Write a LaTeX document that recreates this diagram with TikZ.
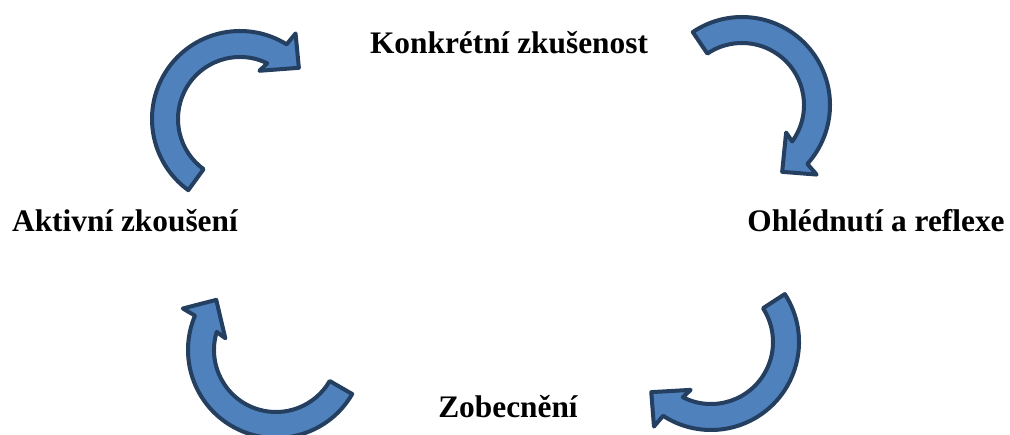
\documentclass[tikz,border=0pt]{standalone}
\usepackage{fontspec}
\setmainfont{Liberation Serif}
\definecolor{arrowfill}{HTML}{4F81BD}
\definecolor{arrowline}{HTML}{243F60}
% circular arrow: centre, tail angle, head angle (clockwise)
\newcommand{\cyclearrow}[3]{%
  \begin{scope}[shift={#1}]
  \draw[cycarrow] (#2:88) arc[start angle=#2, end angle={#3-6}, radius=88]
    -- ({#3-7}:102) -- ({#3-23}:78) -- ({#3+4}:52) -- (#3:62)
    arc[start angle=#3, end angle=#2, radius=62] -- cycle;
  \end{scope}}
\begin{document}
\begin{tikzpicture}[x=0.025cm, y=0.025cm,
    cycarrow/.style={fill=arrowfill, draw=arrowline, line width=0.1cm, line join=round},
    phase/.style={inner sep=0pt, anchor=base, font=\fontsize{22.3}{26}\selectfont\bfseries}]
  \useasboundingbox (0,0) rectangle (1010,434);
  \cyclearrow{(240,315)}{234}{64}
  \cyclearrow{(742,329)}{124}{-36}
  \cyclearrow{(711,92)}{33}{-117}
  \cyclearrow{(276,84)}{-30}{-197}
  \node[phase] (experience) at (509,380) {Konkrétní zkušenost};
  \node[phase] (reflection) at (876,202) {Ohlédnutí a reflexe};
  \node[phase] (concepts) at (508,17) {Zobecnění};
  \node[phase] (testing) at (125,202) {Aktivní zkoušení};
\end{tikzpicture}
\end{document}
